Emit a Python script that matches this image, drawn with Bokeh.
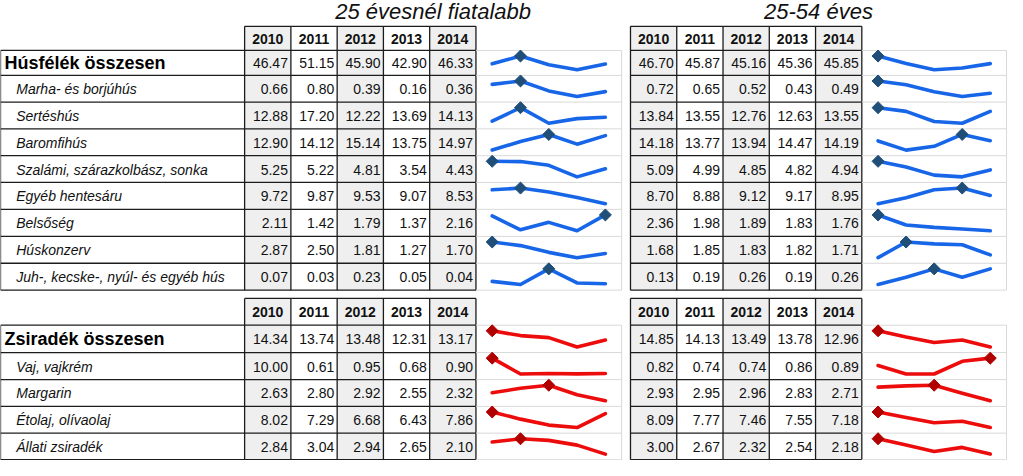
import numpy as np
from bokeh.plotting import figure
from bokeh.models import Range1d, ColumnDataSource
from bokeh.embed import file_html
from bokeh.resources import INLINE
from bokeh.core.properties import value

# ---------------- data ----------------
years = ["2010", "2011", "2012", "2013", "2014"]
title_left = "25 évesnél fiatalabb"
title_right = "25-54 éves"

meat_labels = ["Húsfélék összesen", "Marha- és borjúhús", "Sertéshús", "Baromfihús",
               "Szalámi, szárazkolbász, sonka", "Egyéb hentesáru", "Belsőség",
               "Húskonzerv", "Juh-, kecske-, nyúl- és egyéb hús"]
meat_under25 = [[46.47, 51.15, 45.90, 42.90, 46.33],
                [0.66, 0.80, 0.39, 0.16, 0.36],
                [12.88, 17.20, 12.22, 13.69, 14.13],
                [12.90, 14.12, 15.14, 13.75, 14.97],
                [5.25, 5.22, 4.81, 3.54, 4.43],
                [9.72, 9.87, 9.53, 9.07, 8.53],
                [2.11, 1.42, 1.79, 1.37, 2.16],
                [2.87, 2.50, 1.81, 1.27, 1.70],
                [0.07, 0.03, 0.23, 0.05, 0.04]]
meat_25_54 = [[46.70, 45.87, 45.16, 45.36, 45.85],
              [0.72, 0.65, 0.52, 0.43, 0.49],
              [13.84, 13.55, 12.76, 12.63, 13.55],
              [14.18, 13.77, 13.94, 14.47, 14.19],
              [5.09, 4.99, 4.85, 4.82, 4.94],
              [8.70, 8.88, 9.12, 9.17, 8.95],
              [2.36, 1.98, 1.89, 1.83, 1.76],
              [1.68, 1.85, 1.83, 1.82, 1.71],
              [0.13, 0.19, 0.26, 0.19, 0.26]]

fat_labels = ["Zsiradék összesen", "Vaj, vajkrém", "Margarin", "Étolaj, olívaolaj", "Állati zsiradék"]
fat_under25 = [[14.34, 13.74, 13.48, 12.31, 13.17],
               [10.00, 0.61, 0.95, 0.68, 0.90],
               [2.63, 2.80, 2.92, 2.55, 2.32],
               [8.02, 7.29, 6.68, 6.43, 7.86],
               [2.84, 3.04, 2.94, 2.65, 2.10]]
fat_25_54 = [[14.85, 14.13, 13.49, 13.78, 12.96],
             [0.82, 0.74, 0.74, 0.86, 0.89],
             [2.93, 2.95, 2.96, 2.83, 2.71],
             [8.09, 7.77, 7.46, 7.55, 7.18],
             [3.00, 2.67, 2.32, 2.54, 2.18]]

# ---------------- layout (reference pixel units) ----------------
W_REF, H_REF = 1023, 476
FONT = value("Liberation Sans")
DARK = "#1c1c1c"
LIGHT = "#d9d9d9"
SHADE = "#efefef"
LABEL_W = 248
COL_W = 47
TABLE_X = [248, 640]
SPARK_BOX = [(483, 631), (875, 1022)]

p = figure(width=1007, height=460, x_range=Range1d(0, W_REF), y_range=Range1d(H_REF, 0),
           output_backend="svg", toolbar_location=None, min_border=0,
           x_axis_location=None, y_axis_location=None)
p.grid.visible = False
p.outline_line_color = None
p.background_fill_color = "white"
p.border_fill_color = "white"

# titles
for t, (tx0, (sx0, sx1)) in zip([title_left, title_right], zip(TABLE_X, SPARK_BOX)):
    p.text(x=[(tx0 + sx1) / 2], y=[11], text=[t], text_align="center", text_baseline="middle",
           text_font=FONT, text_font_size="22px", text_font_style="italic", text_color="#111111")


def draw_block(labels, data_l, data_r, header_top, edges, line_col, mark_col):
    header_bot = edges[0]
    # shaded cells (2010, 2012, 2014), header included
    ql, qr, qt, qb = [], [], [], []
    for tx in TABLE_X:
        for j in (0, 2, 4):
            ql.append(tx + j * COL_W); qr.append(tx + (j + 1) * COL_W)
            qt.append(header_top); qb.append(edges[-1])
    p.quad(left=ql, right=qr, top=qt, bottom=qb, fill_color=SHADE, line_color=None)

    # dark grid lines
    x0s, y0s, x1s, y1s = [], [], [], []
    for k, tx in enumerate(TABLE_X):
        right = tx + 5 * COL_W
        for y in [header_top] + list(edges):
            left = 0 if (k == 0 and y != header_top) else tx
            x0s.append(left); x1s.append(right); y0s.append(y); y1s.append(y)
        for j in range(6):
            x = tx + j * COL_W
            x0s.append(x); x1s.append(x); y0s.append(header_top); y1s.append(edges[-1])
    x0s.append(0); x1s.append(0); y0s.append(header_bot); y1s.append(edges[-1])
    p.segment(x0=x0s, y0=y0s, x1=x1s, y1=y1s, line_color=DARK, line_width=1.3)

    # light sparkline boxes
    lx0, ly0, lx1, ly1 = [], [], [], []
    for (bx0, bx1) in SPARK_BOX:
        for y in edges:
            lx0.append(bx0); lx1.append(bx1); ly0.append(y); ly1.append(y)
        lx0.append(bx1); lx1.append(bx1); ly0.append(header_bot); ly1.append(edges[-1])
    p.segment(x0=lx0, y0=ly0, x1=lx1, y1=ly1, line_color=LIGHT, line_width=1)

    # header years
    hx, hy, ht = [], [], []
    for tx in TABLE_X:
        for j, yr in enumerate(years):
            hx.append(tx + (j + 0.5) * COL_W); hy.append((header_top + header_bot) / 2 + 0.5); ht.append(yr)
    p.text(x=hx, y=hy, text=ht, text_align="center", text_baseline="middle", text_font=FONT,
           text_font_size="14px", text_font_style="bold", text_color="#111111")

    # values
    vx, vy, vt = [], [], []
    for tx, data in zip(TABLE_X, [data_l, data_r]):
        for i, row in enumerate(data):
            yc = (edges[i] + edges[i + 1]) / 2 + 0.5
            for j, v in enumerate(row):
                vx.append(tx + (j + 1) * COL_W - 3); vy.append(yc); vt.append(f"{v:.2f}")
    p.text(x=vx, y=vy, text=vt, text_align="right", text_baseline="middle", text_font=FONT,
           text_font_size="14px", text_color="#111111")

    # row labels
    yc0 = (edges[0] + edges[1]) / 2 + 0.5
    p.text(x=[4], y=[yc0], text=[labels[0]], text_align="left", text_baseline="middle", text_font=FONT,
           text_font_size="18px", text_font_style="bold", text_color="#000000")
    lys = [(edges[i] + edges[i + 1]) / 2 + 0.5 for i in range(1, len(labels))]
    p.text(x=[16] * len(lys), y=lys, text=labels[1:], text_align="left", text_baseline="middle",
           text_font=FONT, text_font_size="14px", text_font_style="italic", text_color="#111111")

    # sparklines
    for (bx0, bx1), data in zip(SPARK_BOX, [data_l, data_r]):
        xs_all, ys_all, mx, my = [], [], [], []
        pad_x = 16.5
        step = (bx1 - bx0 - 2 * pad_x) / 4
        for i, row in enumerate(data):
            arr = np.array(row, dtype=float)
            top, bot = edges[i] + 5.8, edges[i + 1] - 5.8
            lo, hi = arr.min(), arr.max()
            ys = top + (hi - arr) / (hi - lo) * (bot - top)
            xs = bx0 + pad_x + step * np.arange(len(arr))
            xs_all.append(list(xs)); ys_all.append(list(ys))
            k = int(np.argmax(arr))
            mx.append(xs[k]); my.append(ys[k])
        p.multi_line(xs=xs_all, ys=ys_all, line_color=line_col, line_width=3.6,
                     line_join="round", line_cap="round")
        p.scatter(x=mx, y=my, marker="square", size=8.5, angle=np.pi / 4,
                  fill_color=mark_col, line_color=mark_col)


edges_meat = [51.7, 77.5, 105.1, 132.8, 160.6, 188.3, 216.1, 244.1, 271.9, 299.7]
edges_fat = [336.0, 364.3, 392.3, 420.0, 447.7, 475.2]
draw_block(meat_labels, meat_under25, meat_25_54, 26.7, edges_meat, "#1866e8", "#1f4e79")
draw_block(fat_labels, fat_under25, fat_25_54, 308.3, edges_fat, "#ec0c0c", "#b00000")

open("out.html", "w").write(file_html(p, INLINE))
